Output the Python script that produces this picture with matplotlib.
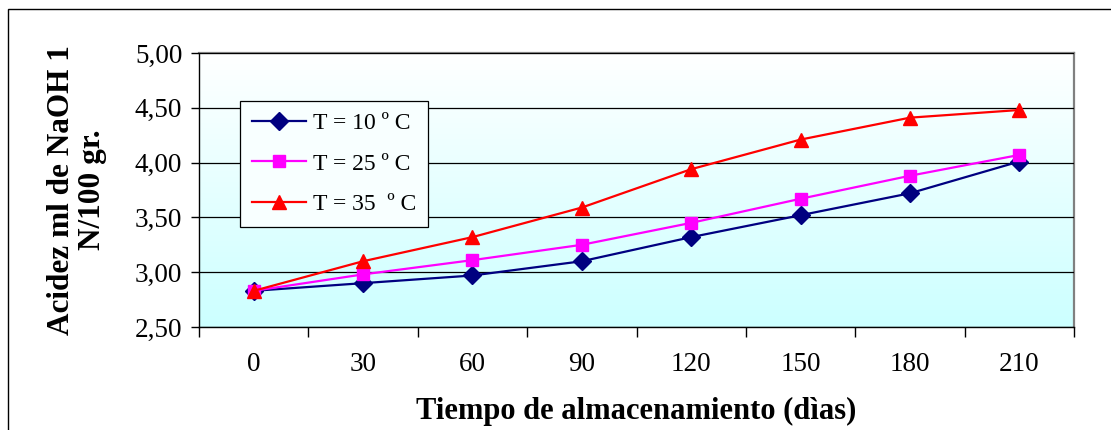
import numpy as np
import matplotlib
matplotlib.use("Agg")
import matplotlib.pyplot as plt
from matplotlib.patches import Rectangle

plt.rcParams['font.family'] = ['Liberation Serif', 'DejaVu Serif']

# Storage time (days) and acidity per temperature
dias = ["0", "30", "60", "90", "120", "150", "180", "210"]
t10 = [2.83, 2.90, 2.97, 3.10, 3.32, 3.52, 3.72, 4.01]
t25 = [2.83, 2.98, 3.11, 3.25, 3.45, 3.67, 3.88, 4.07]
t35 = [2.83, 3.10, 3.32, 3.59, 3.94, 4.21, 4.41, 4.48]
etiquetas = ["T = 10 º C", "T = 25 º C", "T = 35  º C"]
yticks = [2.50, 3.00, 3.50, 4.00, 4.50, 5.00]

fig = plt.figure(figsize=(11.11, 4.30), dpi=100)
fig.patch.set_facecolor('white')

# outer chart frame (only top and left edges fall inside the canvas)
fig.patches.append(Rectangle((8 / 1111, -0.2), 1.2, 1.2 - 9 / 430,
                             transform=fig.transFigure, fill=False,
                             edgecolor='black', linewidth=1.0, zorder=0))

ax = fig.add_axes([199 / 1111, 1 - 327 / 430, 875 / 1111, 274 / 430])

# vertical gradient background: white at top, light cyan at bottom
grad = np.linspace(0, 1, 256).reshape(-1, 1)
top = np.array([1.0, 1.0, 1.0])
bot = np.array([204, 255, 255]) / 255
img = top[None, None, :] * (1 - grad[:, :, None]) + bot[None, None, :] * grad[:, :, None]
ax.imshow(img, extent=[0, 1, 0, 1], transform=ax.transAxes, aspect='auto',
          zorder=0, interpolation='bilinear')

x = np.arange(len(dias))
ax.plot(x, t10, color='#000080', lw=1.6, marker='D', ms=9, mec='#000080',
        label=etiquetas[0], zorder=3)
ax.plot(x, t25, color='#FF00FF', lw=1.6, marker='s', ms=8, mec='#FF00FF',
        label=etiquetas[1], zorder=4)
ax.plot(x, t35, color='#FF0000', lw=1.6, marker='^', ms=10, mec='#FF0000',
        label=etiquetas[2], zorder=5)

ax.set_xlim(-0.5, len(dias) - 0.5)
ax.set_ylim(2.5, 5.0)
ax.set_yticks(yticks)
ax.set_yticklabels([f"{v:.2f}".replace('.', ',') for v in yticks], fontsize=19.5)
ax.yaxis.grid(True, color='black', linewidth=0.9, zorder=1)
ax.set_axisbelow(False)

ax.set_xticks(x)
ax.set_xticklabels(dias, fontsize=19.5)
ax.set_xticks(np.arange(-0.5, len(dias)), minor=True)
ax.tick_params(axis='x', which='major', length=0, pad=18)
ax.tick_params(axis='x', which='minor', length=7, direction='out', width=1, color='black')
ax.tick_params(axis='y', which='major', length=6, direction='out', width=1, pad=6)

for s in ['top', 'right']:
    ax.spines[s].set_color('#808080')
    ax.spines[s].set_linewidth(1.6)
for s in ['left', 'bottom']:
    ax.spines[s].set_color('black')
    ax.spines[s].set_linewidth(1.0)

ax.set_xlabel("Tiempo de almacenamiento (dìas)", fontsize=22, fontweight='bold',
              labelpad=14)
ax.set_ylabel("Acidez ml de NaOH 1\nN/100 gr.", fontsize=22.5, fontweight='bold',
              labelpad=20, linespacing=1.1)

leg = ax.legend(loc='upper left', bbox_to_anchor=(0.047, 0.825), borderaxespad=0,
                fontsize=17, frameon=True, fancybox=False, edgecolor='black',
                facecolor='#F8FFFF', framealpha=1, handlelength=2.3,
                borderpad=0.5, labelspacing=0.8, handletextpad=0.3)
leg.get_frame().set_linewidth(0.9)
leg.set_zorder(10)

fig.savefig("out.png", dpi=100)
